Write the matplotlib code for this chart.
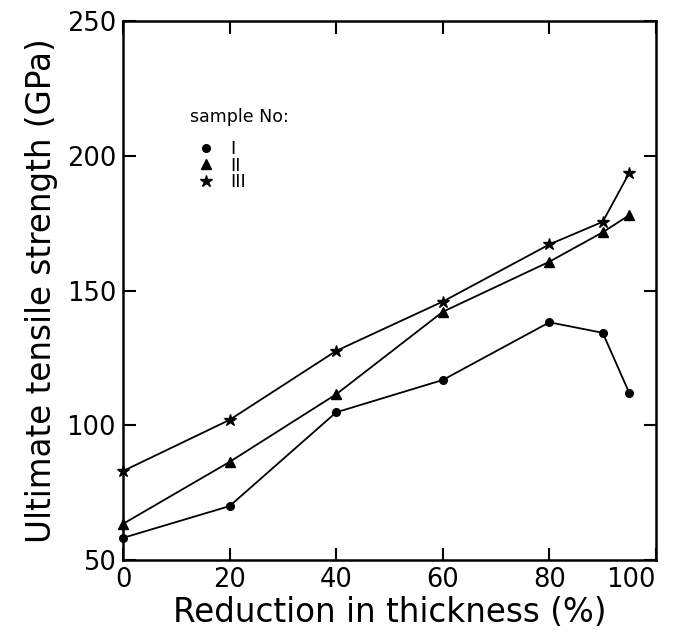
import matplotlib
matplotlib.use("Agg")
import matplotlib.pyplot as plt
from matplotlib.lines import Line2D

# reduction in thickness (%)
reduction = [0, 20, 40, 60, 80, 90, 95]

# ultimate tensile strength (GPa) per sample
sample_1 = [58.2, 70.0, 104.8, 116.8, 138.2, 134.3, 111.9]
sample_2 = [63.4, 86.4, 111.5, 142.1, 160.7, 171.6, 178.0]
sample_3 = [83.0, 102.0, 127.6, 145.9, 167.1, 175.5, 193.7]

labels = ["I", "II", "III"]
markers = ["o", "^", "*"]
msizes = [5.5, 6.5, 9]

xticks = [0, 20, 40, 60, 80, 100]
yticks = [50, 100, 150, 200, 250]

plt.rcParams["font.family"] = "DejaVu Sans"

fig = plt.figure(figsize=(6.77, 6.37), dpi=100)
ax = fig.add_axes([0.1817, 0.1209, 0.7873, 0.8461])

for ys, m, ms in zip([sample_1, sample_2, sample_3], markers, msizes):
    ax.plot(reduction, ys, color="black", lw=1.3, marker=m, ms=ms,
            markerfacecolor="black", markeredgecolor="black", clip_on=False)

ax.set_xlim(0, 100)
ax.set_ylim(50, 250)
ax.set_xticks(xticks)
ax.set_yticks(yticks)
ax.tick_params(direction="in", length=9, width=1.5, labelsize=18.5,
               top=True, right=True, pad=5)
for s in ax.spines.values():
    s.set_linewidth(1.8)
# last x label sits left of the corner like in the original
ax.get_xticklabels()[-1].set_horizontalalignment("right")

ax.set_xlabel("Reduction in thickness (%)", fontsize=23.5, labelpad=2)
ax.set_ylabel("Ultimate tensile strength (GPa)", fontsize=23.5, labelpad=6)

ax.text(0.126, 0.822, "sample No:", transform=ax.transAxes, fontsize=12.5,
        ha="left", va="center")
handles = [Line2D([], [], color="black", marker=m, ls="none", ms=ms)
           for m, ms in zip(markers, msizes)]
ax.legend(handles, labels, loc="upper left", bbox_to_anchor=(0.135, 0.779),
          frameon=False, fontsize=13, handletextpad=0.75, labelspacing=-0.08,
          handlelength=1.2, borderpad=0, borderaxespad=0)

fig.savefig("out.png", dpi=100)
